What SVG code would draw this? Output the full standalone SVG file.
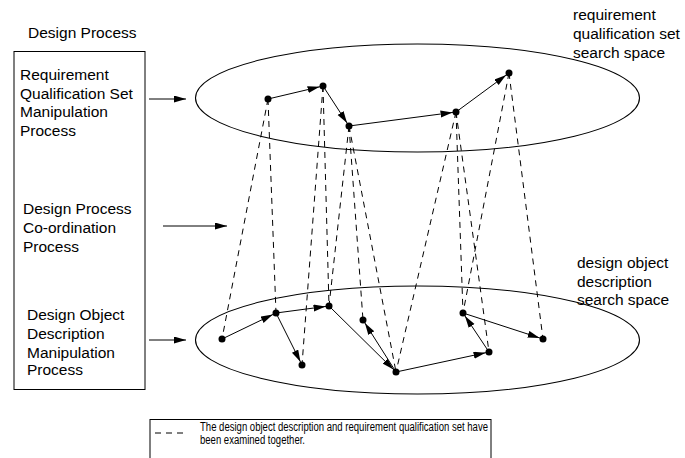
<svg xmlns="http://www.w3.org/2000/svg" width="685" height="458" viewBox="0 0 685 458">
  <style>
    text { font-family: "Liberation Sans", Arial, Helvetica, sans-serif; font-size: 15.5px; fill: #000; }
    .legend { font-size: 12px; }
    .frame { fill: none; stroke: #000; stroke-width: 1; }
    .space { fill: none; stroke: #000; stroke-width: 1.1; }
    .step { stroke: #000; stroke-width: 1; fill: none; marker-end: url(#headDot); }
    .feed { stroke: #000; stroke-width: 1; fill: none; marker-end: url(#head); }
    .pair { stroke: #000; stroke-width: 1; fill: none; stroke-dasharray: 6 5; }
    .dot { fill: #000; }
  </style>
  <defs>
    <!-- arrowhead whose tip sits on the line end -->
    <marker id="head" markerUnits="userSpaceOnUse" markerWidth="13" markerHeight="8" refX="12" refY="3.5" orient="auto">
      <path d="M0,0 L12,3.5 L0,7 z" fill="#000"/>
    </marker>
    <!-- arrowhead that stops at the rim of a state dot -->
    <marker id="headDot" markerUnits="userSpaceOnUse" markerWidth="17" markerHeight="8" refX="15.5" refY="3.5" orient="auto">
      <path d="M0,0 L12,3.5 L0,7 z" fill="#000"/>
    </marker>
  </defs>

  <!-- process column -->
  <text x="28" y="38">Design Process</text>
  <g id="process-box">
    <rect class="frame" x="14" y="51.5" width="131" height="338"/>
  </g>
  <g id="rqs-process">
    <text x="20" y="80">Requirement</text>
    <text x="20" y="98.5">Qualification Set</text>
    <text x="20" y="117">Manipulation</text>
    <text x="20" y="135.5">Process</text>
  </g>
  <g id="coordination-process">
    <text x="23" y="214">Design Process</text>
    <text x="23" y="233">Co-ordination</text>
    <text x="23" y="252">Process</text>
  </g>
  <g id="dod-process">
    <text x="27" y="320">Design Object</text>
    <text x="27" y="339">Description</text>
    <text x="27" y="357.5">Manipulation</text>
    <text x="27" y="375">Process</text>
  </g>

  <!-- search spaces -->
  <g id="rqs-space">
    <ellipse class="space" cx="417.5" cy="98" rx="222" ry="54"/>
    <text x="573" y="20">requirement</text>
    <text x="573" y="39">qualification set</text>
    <text x="573" y="58">search space</text>
  </g>
  <g id="dod-space">
    <ellipse class="space" cx="417.5" cy="340" rx="222" ry="54"/>
    <text x="577" y="268">design object</text>
    <text x="577" y="287">description</text>
    <text x="577" y="305">search space</text>
  </g>

  <!-- connectors -->
  <g id="connectors">
    <!-- process to search space -->
    <line class="feed" x1="149" y1="99" x2="186" y2="99"/>
    <line class="feed" x1="163" y1="226" x2="227" y2="226"/>
    <line class="feed" x1="149" y1="340" x2="186" y2="340"/>

    <!-- requirement qualification set path -->
    <line class="step" x1="268" y1="99" x2="323" y2="86"/>
    <line class="step" x1="323" y1="86" x2="349" y2="126"/>
    <line class="step" x1="349" y1="126" x2="456" y2="112"/>
    <line class="step" x1="456" y1="112" x2="509" y2="73"/>

    <!-- design object description path -->
    <line class="step" x1="222" y1="339" x2="276" y2="313"/>
    <line class="step" x1="276" y1="313" x2="302" y2="365"/>
    <line class="step" x1="276" y1="313" x2="329" y2="306"/>
    <line class="step" x1="329" y1="306" x2="396" y2="372"/>
    <line class="step" x1="396" y1="372" x2="363" y2="320"/>
    <line class="step" x1="396" y1="372" x2="489" y2="352"/>
    <line class="step" x1="489" y1="352" x2="463" y2="313"/>
    <line class="step" x1="463" y1="313" x2="543" y2="339"/>

    <!-- examined-together pairs -->
    <line class="pair" x1="268" y1="99" x2="222" y2="339"/>
    <line class="pair" x1="268" y1="99" x2="276" y2="313"/>
    <line class="pair" x1="323" y1="86" x2="302" y2="365"/>
    <line class="pair" x1="323" y1="86" x2="329" y2="306"/>
    <line class="pair" x1="349" y1="126" x2="329" y2="306"/>
    <line class="pair" x1="349" y1="126" x2="363" y2="320"/>
    <line class="pair" x1="349" y1="126" x2="396" y2="372"/>
    <line class="pair" x1="456" y1="112" x2="396" y2="372"/>
    <line class="pair" x1="456" y1="112" x2="463" y2="313"/>
    <line class="pair" x1="456" y1="112" x2="489" y2="352"/>
    <line class="pair" x1="509" y1="73" x2="463" y2="313"/>
    <line class="pair" x1="509" y1="73" x2="543" y2="339"/>
  </g>

  <!-- requirement qualification set states -->
  <g id="rqs-1"><circle class="dot" cx="268" cy="99" r="3.5"/></g>
  <g id="rqs-2"><circle class="dot" cx="323" cy="86" r="3.5"/></g>
  <g id="rqs-3"><circle class="dot" cx="349" cy="126" r="3.5"/></g>
  <g id="rqs-4"><circle class="dot" cx="456" cy="112" r="3.5"/></g>
  <g id="rqs-5"><circle class="dot" cx="509" cy="73" r="3.5"/></g>

  <!-- design object description states -->
  <g id="dod-1"><circle class="dot" cx="222" cy="339" r="3.5"/></g>
  <g id="dod-2"><circle class="dot" cx="276" cy="313" r="3.5"/></g>
  <g id="dod-3"><circle class="dot" cx="302" cy="365" r="3.5"/></g>
  <g id="dod-4"><circle class="dot" cx="329" cy="306" r="3.5"/></g>
  <g id="dod-5"><circle class="dot" cx="363" cy="320" r="3.5"/></g>
  <g id="dod-6"><circle class="dot" cx="396" cy="372" r="3.5"/></g>
  <g id="dod-7"><circle class="dot" cx="489" cy="352" r="3.5"/></g>
  <g id="dod-8"><circle class="dot" cx="463" cy="313" r="3.5"/></g>
  <g id="dod-9"><circle class="dot" cx="543" cy="339" r="3.5"/></g>

  <!-- legend -->
  <g id="legend">
    <rect class="frame" x="150" y="419.5" width="341" height="60"/>
    <line class="pair" x1="155" y1="433" x2="188" y2="433"/>
    <text class="legend" x="200" y="431" textLength="288" lengthAdjust="spacingAndGlyphs">The design object description and requirement qualification set have</text>
    <text class="legend" x="200" y="444" textLength="105" lengthAdjust="spacingAndGlyphs">been examined together.</text>
  </g>
</svg>
